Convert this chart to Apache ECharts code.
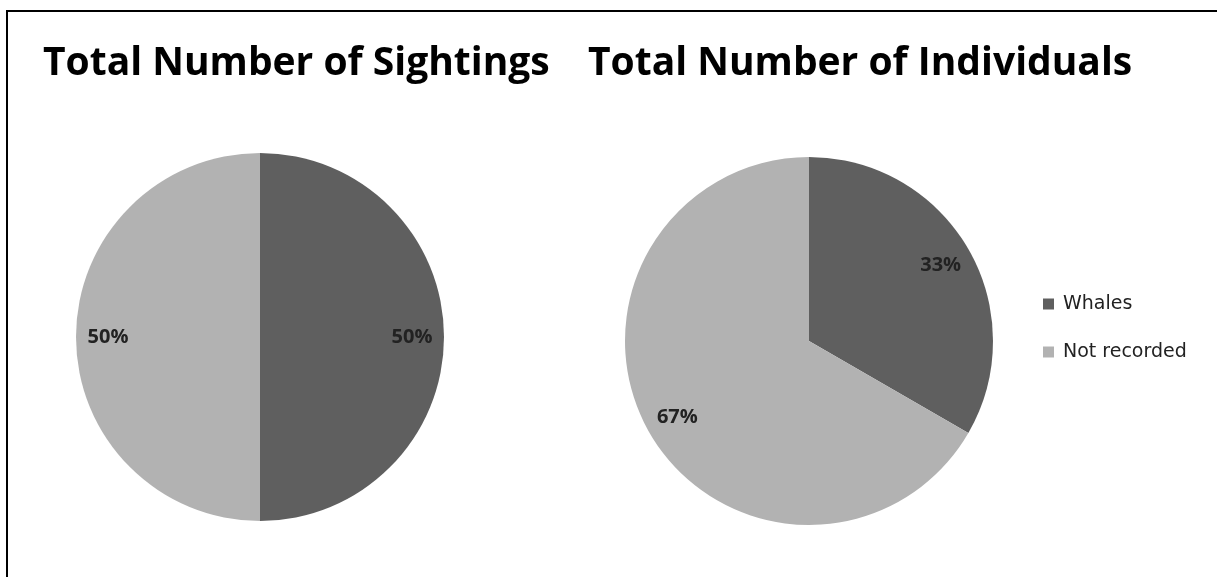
<!DOCTYPE html>
<html><head><meta charset="utf-8">
<script src="https://cdn.jsdelivr.net/npm/echarts@6/dist/echarts.min.js"></script>
<style>html,body{margin:0;padding:0;background:#fff;overflow:hidden}#c{width:1217px;height:577px}</style>
</head><body><div id="c"></div>
<script>
const categories = ['Whales', 'Not recorded'];
const sightings = [1, 1];
const individuals = [1, 2];
const titles = ['Total Number of Sightings', 'Total Number of Individuals'];
const colors = ['#5f5f5f', '#b2b2b2'];

const chart = echarts.init(document.getElementById('c'), null, {renderer: 'canvas'});
const R = 184;
const centers = [[260, 337], [809, 341]];
const sets = [sightings, individuals];
const series = [];
sets.forEach((vals, i) => {
  const data = categories.map((n, k) => ({name: n, value: vals[k]}));
  series.push({
    type: 'pie', center: centers[i], radius: [0, R], startAngle: 90, clockwise: true,
    data: data, label: {show: false}, labelLine: {show: false},
    itemStyle: {borderWidth: 0}, emphasis: {disabled: true}, animation: false
  });
});
sets.forEach((vals, i) => {
  const data = categories.map((n, k) => ({name: n, value: vals[k]}));
  series.push({
    type: 'pie', center: centers[i], radius: [R * 0.62, R], startAngle: 90, clockwise: true,
    data: data, silent: true, animation: false,
    itemStyle: {color: 'rgba(0,0,0,0)', borderWidth: 0},
    emphasis: {disabled: true}, labelLine: {show: false},
    label: {show: true, position: 'inside', formatter: p => Math.round(p.percent) + '%',
      fontFamily: 'Open Sans', fontWeight: 'bold', fontSize: 20, color: '#222'}
  });
});

chart.setOption({
  backgroundColor: '#fff',
  color: colors,
  title: [
    {text: titles[0], left: 43, top: 44, padding: 0, textStyle: {fontFamily: 'Open Sans', fontWeight: 'bold', fontSize: 39, color: '#000'}},
    {text: titles[1], left: 588, top: 44, padding: 0, textStyle: {fontFamily: 'Open Sans', fontWeight: 'bold', fontSize: 39, color: '#000'}}
  ],
  legend: {
    data: categories, orient: 'vertical', left: 1043, top: 293, padding: 0,
    itemWidth: 11, itemHeight: 11, itemGap: 26, icon: 'rect',
    textStyle: {fontFamily: 'DejaVu Sans', fontSize: 19, lineHeight: 22, color: '#222', padding: [0, 0, 0, 4]},
    selectedMode: false
  },
  graphic: [
    {type: 'line', shape: {x1: 6, y1: 11, x2: 1217, y2: 11}, style: {stroke: '#000', lineWidth: 2}, silent: true, z: 100},
    {type: 'line', shape: {x1: 7, y1: 10, x2: 7, y2: 577}, style: {stroke: '#000', lineWidth: 2}, silent: true, z: 100}
  ],
  series: series
});
</script></body></html>
